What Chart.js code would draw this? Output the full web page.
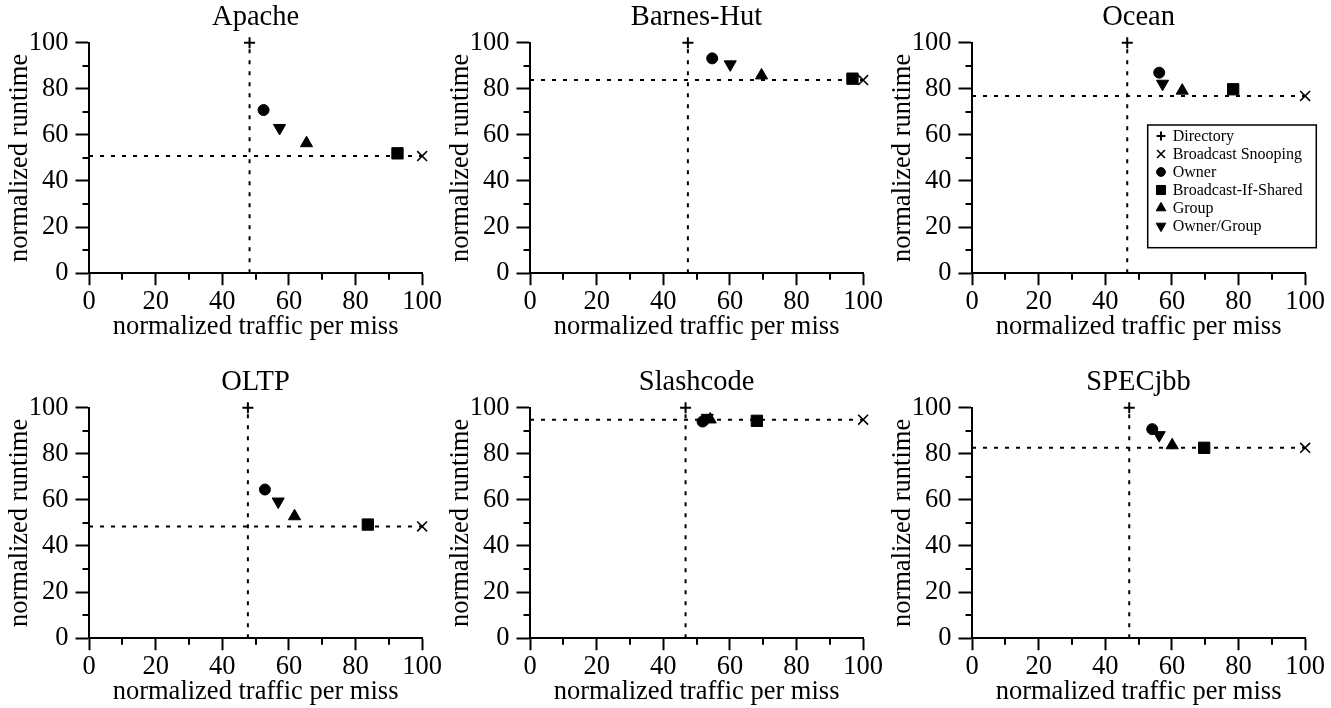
<!DOCTYPE html>
<html><head><meta charset="utf-8">
<script src="https://cdn.jsdelivr.net/npm/chart.js@4/dist/chart.umd.min.js"></script>
<style>
html,body{margin:0;padding:0;background:#fff;width:1331px;height:708px;overflow:hidden;position:relative}
canvas{position:absolute}
</style></head><body>
<script>
// ---- data ----
const benchmarks = ['Apache','Barnes-Hut','Ocean','OLTP','Slashcode','SPECjbb'];
const protocols = ['Directory','Broadcast Snooping','Owner','Broadcast-If-Shared','Group','Owner/Group'];

const directoryTraffic   = [48.2, 47.4, 46.6, 47.7, 46.7, 47.2];
const directoryRuntime   = [100, 100, 100, 100, 100, 100];
const snoopingTraffic    = [100, 100, 100, 100, 100, 100];
const snoopingRuntime    = [50.8, 83.8, 76.9, 48.5, 94.8, 82.6];
const ownerTraffic       = [52.4, 54.7, 56.2, 52.8, 51.8, 54.1];
const ownerRuntime       = [70.8, 93.2, 87.0, 64.5, 94.0, 90.7];
const bisTraffic         = [92.6, 96.8, 78.4, 83.7, 68.1, 69.7];
const bisRuntime         = [52.0, 84.4, 79.8, 49.3, 94.3, 82.6];
const groupTraffic       = [65.3, 69.5, 63.1, 61.7, 54.1, 60.1];
const groupRuntime       = [56.4, 85.8, 79.2, 52.9, 94.9, 83.7];
const ownerGroupTraffic  = [57.2, 60.1, 57.2, 56.8, 53.2, 56.2];
const ownerGroupRuntime  = [63.0, 90.6, 82.2, 59.3, 95.6, 88.1];

const xTickLabels = [0, 20, 40, 60, 80, 100];
const yTickLabels = [0, 20, 40, 60, 80, 100];

const trafficSeries = [directoryTraffic, snoopingTraffic, ownerTraffic, bisTraffic, groupTraffic, ownerGroupTraffic];
const runtimeSeries = [directoryRuntime, snoopingRuntime, ownerRuntime, bisRuntime, groupRuntime, ownerGroupRuntime];

// ---- styles ----
const markerStyles = [
  {pointStyle:'cross',    radius:5.5, borderWidth:2,   rotation:0},
  {pointStyle:'crossRot', radius:7,   borderWidth:1.6, rotation:0},
  {pointStyle:'circle',   radius:5.5, borderWidth:1,   rotation:0},
  {pointStyle:'rect',     radius:8,   borderWidth:1,   rotation:0},
  {pointStyle:'triangle', radius:7,   borderWidth:1,   rotation:0},
  {pointStyle:'triangle', radius:7,   borderWidth:1,   rotation:180}
];
const FONT = "'Liberation Serif', 'Times New Roman', serif";
const panelLefts = [0, 441, 883];
const panelTops = [0, 365];
const CW = 443, CH = 343;

Chart.defaults.font.family = FONT;
Chart.defaults.color = '#000';

const minorTicks = {
  id: 'minorTicks',
  afterDraw(chart) {
    const {ctx, chartArea, scales} = chart;
    const x = scales.x, y = scales.y;
    ctx.save();
    ctx.strokeStyle = '#000';
    ctx.lineWidth = 2;
    ctx.beginPath();
    x.ticks.forEach(t => {
      if (!xTickLabels.includes(t.value)) {
        const px = Math.round(x.getPixelForValue(t.value));
        ctx.moveTo(px, chartArea.bottom); ctx.lineTo(px, chartArea.bottom + 6.5);
      }
    });
    y.ticks.forEach(t => {
      if (!yTickLabels.includes(t.value)) {
        const py = Math.round(y.getPixelForValue(t.value));
        ctx.moveTo(chartArea.left, py); ctx.lineTo(chartArea.left - 6.5, py);
      }
    });
    ctx.stroke();
    ctx.restore();
  }
};

const insetLegend = {
  id: 'insetLegend',
  afterDraw(chart, args, opts) {
    if (!opts || !opts.show) return;
    const {ctx, chartArea} = chart;
    const x0 = chartArea.left + opts.dx, y0 = chartArea.top + opts.dy;
    ctx.save();
    ctx.fillStyle = '#fff';
    ctx.fillRect(x0, y0, opts.w, opts.h);
    ctx.strokeStyle = '#000';
    ctx.lineWidth = 1.5;
    ctx.strokeRect(x0, y0, opts.w, opts.h);
    let row = 0;
    chart.data.datasets.forEach(ds => {
      if (!ds.inLegend) return;
      const my = y0 + opts.firstRow + row * opts.rowGap;
      const mx = x0 + opts.markerX;
      ctx.fillStyle = '#000';
      ctx.strokeStyle = '#000';
      ctx.lineWidth = ds.pointBorderWidth;
      const o = {pointStyle: ds.pointStyle, radius: ds.pointRadius * 0.8, rotation: ds.pointRotation || 0, borderWidth: ds.pointBorderWidth};
      if (Chart.helpers && Chart.helpers.drawPoint) {
        Chart.helpers.drawPoint(ctx, o, mx, my);
      } else {
        ctx.beginPath(); ctx.arc(mx, my, 4, 0, Math.PI * 2); ctx.fill();
      }
      ctx.fillStyle = '#000';
      ctx.font = '16px ' + FONT;
      ctx.textBaseline = 'middle';
      ctx.textAlign = 'left';
      ctx.fillText(ds.label, x0 + opts.textX, my + 0.5);
      row++;
    });
    ctx.restore();
  }
};

benchmarks.forEach((name, i) => {
  const cv = document.createElement('canvas');
  cv.width = CW; cv.height = CH;
  cv.style.left = panelLefts[i % 3] + 'px';
  cv.style.top = panelTops[Math.floor(i / 3)] + 'px';
  cv.style.width = CW + 'px'; cv.style.height = CH + 'px';
  document.body.appendChild(cv);

  const datasets = protocols.map((p, k) => ({
    label: p,
    inLegend: true,
    data: [{x: trafficSeries[k][i], y: runtimeSeries[k][i]}],
    pointStyle: markerStyles[k].pointStyle,
    pointRadius: markerStyles[k].radius,
    pointHoverRadius: markerStyles[k].radius,
    pointBorderWidth: markerStyles[k].borderWidth,
    pointRotation: markerStyles[k].rotation,
    backgroundColor: '#000',
    borderColor: '#000',
    showLine: false,
    clip: false
  }));
  const guide = {
    showLine: true, borderDash: [4, 7], borderWidth: 2, borderColor: '#000',
    pointRadius: 0, pointHoverRadius: 0, fill: false, clip: false, inLegend: false
  };
  datasets.push(Object.assign({label: 'directory-guide',
    data: [{x: directoryTraffic[i], y: 0}, {x: directoryTraffic[i], y: directoryRuntime[i]}]}, guide));
  datasets.push(Object.assign({label: 'snooping-guide',
    data: [{x: 0, y: snoopingRuntime[i]}, {x: snoopingTraffic[i], y: snoopingRuntime[i]}]}, guide));

  const tickColor = (c) => (c.tick && (c.scale.axis === 'x' ? xTickLabels : yTickLabels).includes(c.tick.value)) ? '#000' : 'rgba(0,0,0,0)';

  new Chart(cv, {
    type: 'scatter',
    data: {datasets},
    plugins: [minorTicks, insetLegend],
    options: {
      responsive: false,
      animation: false,
      devicePixelRatio: 1,
      layout: {padding: 0},
      plugins: {
        legend: {display: false},
        tooltip: {enabled: false},
        title: {display: true, text: name, color: '#000', fullSize: false,
          font: {size: 28.5, weight: 'normal', family: FONT, lineHeight: 1.2},
          padding: {top: 0, bottom: 8.5}},
        insetLegend: i === 2 ? {show: true, dx: 175.7, dy: 82.3, w: 168.6, h: 122.7,
          firstRow: 11, rowGap: 18, markerX: 13.3, textX: 25} : {show: false}
      },
      scales: {
        x: {
          type: 'linear', min: 0, max: 100,
          afterFit: (s) => { s.height = 69.8; },
          border: {display: true, color: '#000', width: 2},
          grid: {drawOnChartArea: false, drawTicks: true, tickLength: 12, tickWidth: 2, tickColor},
          ticks: {stepSize: 10, autoSkip: false, maxRotation: 0, padding: 1, color: '#000',
            font: {size: 26.5, family: FONT},
            callback: (v) => xTickLabels.includes(v) ? String(v) : ''},
          title: {display: true, text: 'normalized traffic per miss', color: '#000',
            font: {size: 26.5, family: FONT}, padding: {top: 0, bottom: 0.2}}
        },
        y: {
          type: 'linear', min: 0, max: 100,
          afterFit: (s) => { s.width = 89; },
          border: {display: true, color: '#000', width: 2},
          grid: {drawOnChartArea: false, drawTicks: true, tickLength: 13.5, tickWidth: 2, tickColor},
          ticks: {stepSize: 10, autoSkip: false, padding: 7, color: '#000',
            font: {size: 26.5, family: FONT},
            callback: (v) => yTickLabels.includes(v) ? String(v) : ''},
          title: {display: true, text: 'normalized runtime', color: '#000',
            font: {size: 26.5, family: FONT}, padding: {top: 4, bottom: 0}}
        }
      }
    }
  });
});
</script>
</body></html>
